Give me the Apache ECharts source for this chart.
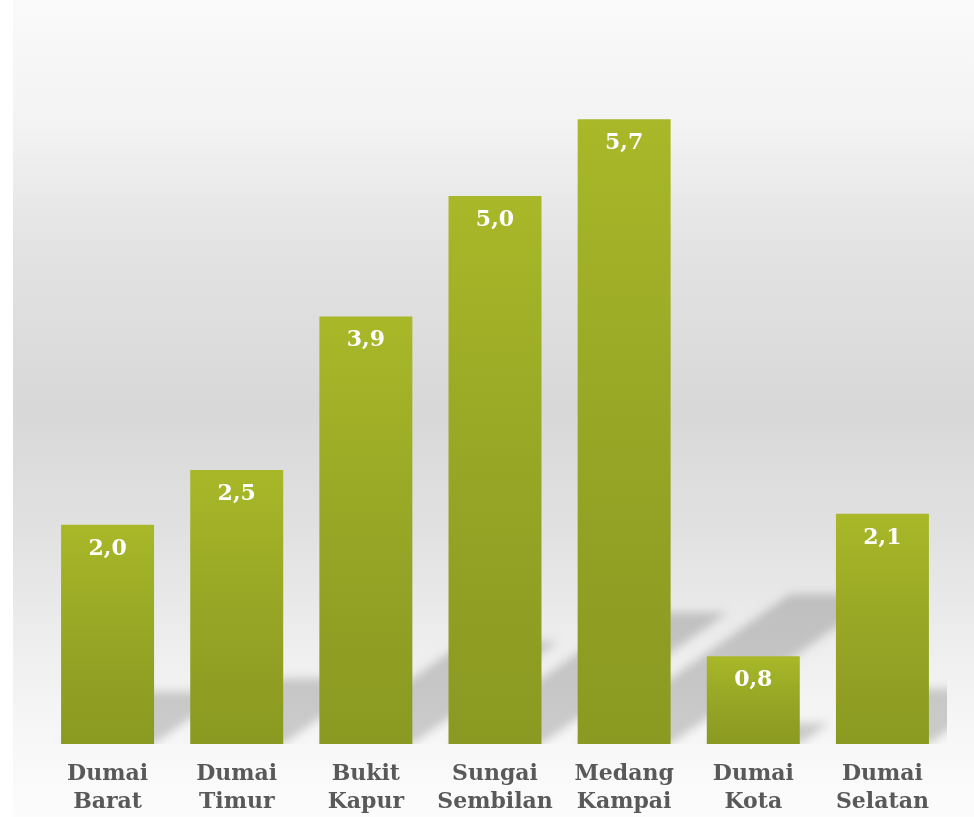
<!DOCTYPE html>
<html>
<head>
<meta charset="utf-8">
<script src="https://cdn.jsdelivr.net/npm/echarts@6/dist/echarts.min.js"></script>
<style>
  html, body { margin: 0; padding: 0; background: #ffffff; }
  #chart { width: 974px; height: 817px; }
</style>
</head>
<body>
<div id="chart"></div>
<script>
// Kecamatan di Kota Dumai
const categories = ['Dumai\nBarat', 'Dumai\nTimur', 'Bukit\nKapur', 'Sungai\nSembilan', 'Medang\nKampai', 'Dumai\nKota', 'Dumai\nSelatan'];
const values = [2.0, 2.5, 3.9, 5.0, 5.7, 0.8, 2.1];

const chart = echarts.init(document.getElementById('chart'), null, { renderer: 'canvas' });

const serif = '"DejaVu Serif", "Liberation Serif", serif';

// soft perspective shadow of each bar, falling back and to the right.
// The polygon itself sits far off to the left; only its blurred
// canvas shadow (shifted back by SHIFT) lands behind the bar.
const SHIFT = 3000;
function renderShadow(params, api) {
  const idx = api.value(0);
  const v = api.value(1);
  const base = api.coord([idx, 0]);
  const top = api.coord([idx, v]);
  const band = api.size([1, 0])[0];
  const w = band * 0.72;
  const h = base[1] - top[1];
  const dx = h * 0.34;
  const dy = h * 0.24;
  const x0 = base[0] - w / 2 - SHIFT;
  const x1 = base[0] + w / 2 - SHIFT;
  const y0 = base[1];
  return {
    type: 'polygon',
    shape: { points: [[x0, y0], [x1, y0], [x1 + dx, y0 - dy], [x0 + dx, y0 - dy]] },
    style: {
      fill: '#000000',
      shadowBlur: 10,
      shadowOffsetX: SHIFT,
      shadowOffsetY: 0,
      shadowColor: 'rgba(0,0,0,0.18)'
    }
  };
}

chart.setOption({
  animation: false,
  graphic: [{
    type: 'rect',
    z: -10,
    shape: { x: 13, y: 0, width: 961, height: 817 },
    style: {
      fill: new echarts.graphic.LinearGradient(0, 0, 0, 1, [
        { offset: 0, color: '#fafafa' },
        { offset: 0.15, color: '#f3f3f3' },
        { offset: 0.3, color: '#e3e3e3' },
        { offset: 0.5, color: '#d8d8d8' },
        { offset: 0.65, color: '#e1e1e1' },
        { offset: 0.8, color: '#efefef' },
        { offset: 0.9, color: '#f7f7f7' },
        { offset: 1, color: '#fcfcfc' }
      ])
    }
  }],
  grid: { left: 43, right: 27, top: 31.6, bottom: 73, containLabel: false },
  xAxis: {
    type: 'category',
    data: categories,
    axisLine: { show: false },
    axisTick: { show: false },
    axisLabel: {
      margin: 16,
      color: '#595959',
      fontFamily: serif,
      fontWeight: 'bold',
      fontSize: 22,
      lineHeight: 28,
      interval: 0
    }
  },
  yAxis: {
    type: 'value',
    min: 0,
    max: 6.5,
    show: false,
    splitLine: { show: false }
  },
  series: [
    {
      type: 'custom',
      renderItem: renderShadow,
      clip: true,
      z: 1,
      silent: true,
      data: values.map((v, i) => [i, v])
    },
    {
      type: 'bar',
      z: 2,
      data: values,
      barCategoryGap: '28%',
      itemStyle: {
        color: new echarts.graphic.LinearGradient(0, 0, 0, 1, [
          { offset: 0, color: '#a8b828' },
          { offset: 0.5, color: '#97a625' },
          { offset: 1, color: '#8a9921' }
        ])
      },
      label: {
        show: true,
        position: 'insideTop',
        distance: 13,
        color: '#ffffff',
        fontFamily: serif,
        fontWeight: 'bold',
        fontSize: 22,
        formatter: p => p.value.toFixed(1).replace('.', ',')
      }
    }
  ]
});
</script>
</body>
</html>
